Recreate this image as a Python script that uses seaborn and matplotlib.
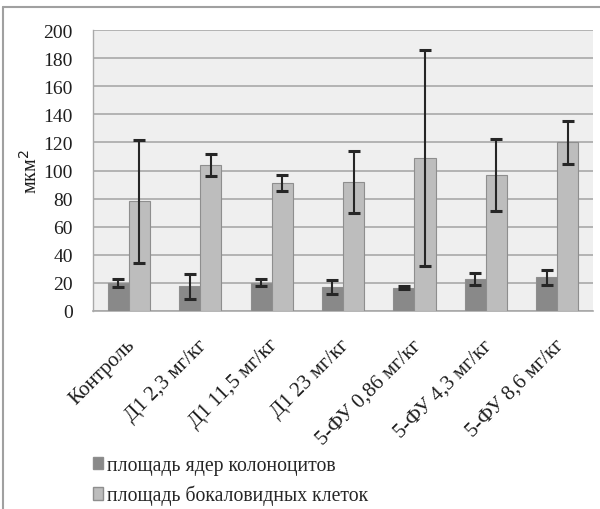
import numpy as np
import pandas as pd
import matplotlib
matplotlib.use("Agg")
import matplotlib.pyplot as plt
import matplotlib.transforms as mtransforms
import seaborn as sns
from matplotlib.patches import Rectangle

# Groups and measurements (mean ± error), μm²
groups = ["Контроль", "Д1 2,3 мг/кг", "Д1 11,5 мг/кг", "Д1 23 мг/кг",
          "5-ФУ 0,86 мг/кг", "5-ФУ 4,3 мг/кг", "5-ФУ 8,6 мг/кг"]
series_names = ["площадь ядер колоноцитов", "площадь бокаловидных клеток"]
nuclei_mean = [20, 17.5, 20, 17, 16.5, 22.5, 24]
nuclei_err = [3, 8.7, 2.5, 5, 1, 4.2, 5.5]
goblet_mean = [78, 104, 91, 92, 109, 97, 120]
goblet_err = [44, 8, 5.5, 22, 77, 25.5, 15.5]
y_ticks = list(range(0, 201, 20))

df = pd.DataFrame({
    "group": groups * 2,
    "series": [series_names[0]] * len(groups) + [series_names[1]] * len(groups),
    "value": nuclei_mean + goblet_mean,
})

sns.set_theme(style="white")
plt.rcParams["font.family"] = ["Liberation Serif", "DejaVu Serif"]

fig = plt.figure(figsize=(6.0, 5.1), dpi=100)
ax = fig.add_axes([93 / 600, 1 - 312 / 510, 500 / 600, 281 / 510])
ax.set_facecolor("#efefef")

colors = ["#898989", "#bdbdbd"]
sns.barplot(data=df, x="group", y="value", hue="series", order=groups,
            hue_order=series_names, palette=colors, width=0.59, gap=0,
            edgecolor="#8e8e8e", linewidth=0.8, errorbar=None, ax=ax,
            zorder=3, legend=False)

# Error bars placed at the centres of the drawn bars
for container, err in zip(ax.containers, [nuclei_err, goblet_err]):
    xs = [b.get_x() + b.get_width() / 2 for b in container]
    hs = [b.get_height() for b in container]
    ax.errorbar(xs, hs, yerr=err, fmt="none", ecolor="#262626",
                elinewidth=1.5, capsize=4, capthick=2.2, zorder=4)

ax.set_ylim(0, 200)
ax.set_xlim(-0.5, len(groups) - 0.5)
ax.set_yticks(y_ticks)
ax.yaxis.grid(True, color="#a9a9a9", linewidth=1.2, zorder=0)
ax.set_axisbelow(True)

for side in ["top", "right"]:
    ax.spines[side].set_visible(False)
ax.spines["left"].set_color("#a9a9a9")
ax.spines["bottom"].set_color("#a9a9a9")
ax.spines["left"].set_linewidth(1.0)
ax.spines["bottom"].set_linewidth(1.2)

# Category ticks sit on the boundaries between groups
ax.set_xticks(np.arange(len(groups)))
ax.set_xticklabels(groups, rotation=45, ha="right", rotation_mode="anchor",
                   fontsize=15, color="#1e1e1e")
ax.tick_params(axis="x", length=0, pad=6)
shift = mtransforms.ScaledTranslation(-3 / 100, -16 / 100, fig.dpi_scale_trans)
for lbl in ax.get_xticklabels():
    lbl.set_transform(lbl.get_transform() + shift)
ax.set_xticks(np.arange(-0.5, len(groups) + 0.5, 1), minor=True)
ax.tick_params(axis="x", which="minor", length=5, color="#a9a9a9", width=1)
ax.tick_params(axis="y", length=5.8, color="#a9a9a9", width=1, labelsize=14,
               labelcolor="#1e1e1e", pad=8.6)

ax.set_xlabel("")
ax.set_ylabel("мкм$^2$", fontsize=14.5, color="#1e1e1e", labelpad=1)

# Legend below the axis
handles = [Rectangle((0, 0), 1, 1, facecolor=c, edgecolor="#8e8e8e") for c in colors]
fig.legend(handles, series_names, loc="upper left",
           bbox_to_anchor=(93 / 600, 1 - 457 / 510), frameon=False,
           fontsize=14.2, handlelength=0.5, handleheight=0.6, handletextpad=0.2,
           labelspacing=0.5, borderpad=0, borderaxespad=0)

# Outer frame lines along the top and left edges
fig.add_artist(plt.Line2D([3 / 600, 1], [1 - 8 / 510, 1 - 8 / 510],
                          transform=fig.transFigure, color="#a0a0a0", lw=1.5))
fig.add_artist(plt.Line2D([3 / 600, 3 / 600], [0, 1 - 8 / 510],
                          transform=fig.transFigure, color="#a0a0a0", lw=1.5))

fig.savefig("out.png", dpi=100, facecolor="white")
